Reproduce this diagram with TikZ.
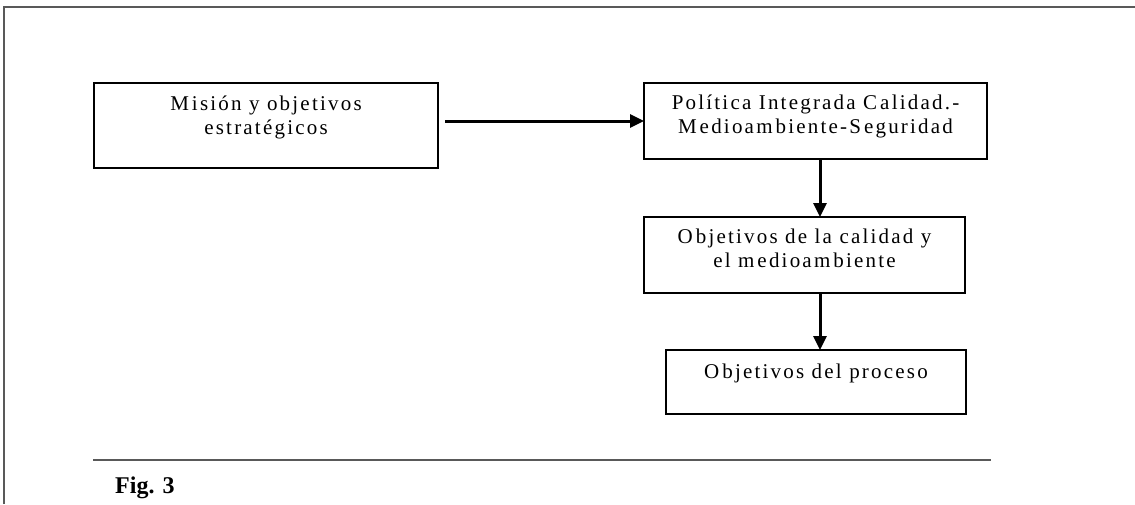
\documentclass[tikz,border=0pt]{standalone}
\usepackage{fontspec}
\setmainfont{Liberation Serif}
\newfontfamily\boxfont[LetterSpace=10.5]{Liberation Serif}
\usetikzlibrary{arrows.meta}
\newcommand{\gp}{\kern3pt}
\tikzset{
  frameline/.style={draw=black!65, line width=1.4pt},
  stepbox/.style={draw=black, line width=1.8pt, rectangle, inner sep=0pt, outer sep=0pt},
  txt/.style={font=\boxfont\fontsize{21}{24}\selectfont, align=center, inner sep=0pt, anchor=base},
  arr/.style={line width=3pt, -{Triangle[length=14pt,width=13pt]}},
}
\begin{document}
\begin{tikzpicture}[x=1pt,y=-1pt]
\useasboundingbox (0,0) rectangle (1135,504);
% page frame
\coordinate (fa) at (4,504);
\coordinate (fb) at (4,7);
\coordinate (fc) at (1135,7);
\draw[frameline] (fa) -- (fb) -- (fc);
% boxes
\node[stepbox, minimum width=344pt, minimum height=85pt] (b1) at (266,125.5) {};
\node[stepbox, minimum width=343pt, minimum height=76pt] (b2) at (815.5,121) {};
\node[stepbox, minimum width=321pt, minimum height=76pt] (b3) at (804.5,255) {};
\node[stepbox, minimum width=300pt, minimum height=64pt] (b4) at (816,382) {};
% texts (base anchor = baseline of the last line)
\node[txt] (t1) at ([yshift=-51pt]b1.north) {M\gp isión y objetivos\\estratégicos};
\node[txt] (t2) at ([yshift=-50pt]b2.north) {Política Integrada C\gp alidad.-\\M\gp edioam\gp biente-S\gp eguridad};
\node[txt] (t3) at ([yshift=-50pt]b3.north) {O\gp bjetivos de la calidad y\\el m\gp edioam\gp biente};
\node[txt] (t4) at ([yshift=-28pt]b4.north) {O\gp bjetivos del proceso};
% connectors
\draw[arr] ([xshift=7pt]b1.east |- b2.west) -- (b2.west);
\draw[arr] ([xshift=4.5pt]b2.south) -- ([xshift=4.5pt]b2.south |- b3.north);
\draw[arr] ([xshift=15.5pt]b3.south) -- ([xshift=15.5pt]b3.south |- b4.north);
% rule and caption
\coordinate (ra) at (93,460);
\coordinate (rb) at (991,460);
\draw[frameline] (ra) -- (rb);
\node[font=\bfseries\fontsize{24}{28}\selectfont, anchor=base west, inner sep=0pt] (fig) at (115,493) {Fig. 3};
\end{tikzpicture}
\end{document}
